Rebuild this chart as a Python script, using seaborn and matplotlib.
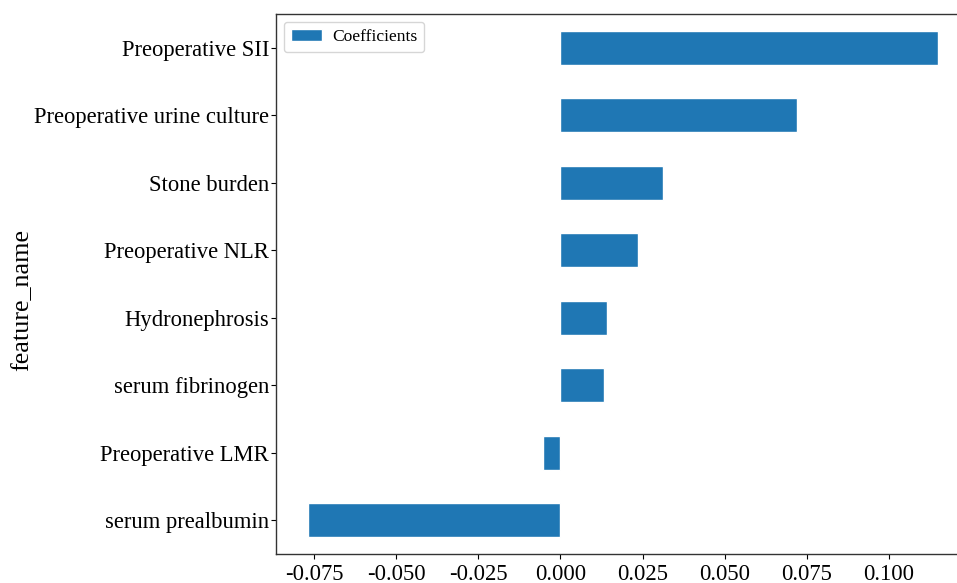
import matplotlib
matplotlib.use("Agg")
import matplotlib.pyplot as plt
import seaborn as sns
import pandas as pd

features = ["Preoperative SII", "Preoperative urine culture", "Stone burden",
            "Preoperative NLR", "Hydronephrosis", "serum fibrinogen",
            "Preoperative LMR", "serum prealbumin"]
coefficients = [0.1152, 0.0720, 0.0311, 0.0235, 0.0143, 0.0134, -0.0052, -0.0771]
xticks = [-0.075, -0.050, -0.025, 0.000, 0.025, 0.050, 0.075, 0.100]

df = pd.DataFrame({"feature_name": features, "Coefficients": coefficients})

sns.set_style("ticks")
plt.rcParams["font.family"] = ["Liberation Serif", "DejaVu Serif"]
plt.rcParams["text.color"] = "black"
plt.rcParams["xtick.color"] = "black"
plt.rcParams["ytick.color"] = "black"
plt.rcParams["axes.labelcolor"] = "black"

fig = plt.figure(figsize=(9.57, 5.83), dpi=100)
ax = fig.add_axes([276 / 957, 29 / 583, 694 / 957, 540 / 583])

sns.barplot(data=df, x="Coefficients", y="feature_name", orient="h",
            color="#1f77b4", saturation=1, width=0.5, ax=ax,
            label="Coefficients")

lo, hi = min(coefficients), max(coefficients)
pad = (hi - lo) * 0.05
ax.set_xlim(lo - pad, hi + pad)
ax.set_ylim(7.5, -0.5)
ax.set_xticks(xticks)
ax.set_xticklabels([f"{t:.3f}" for t in xticks])
ax.tick_params(axis="both", labelsize=16.3, colors="black", length=3.5)
ax.tick_params(axis="y", pad=1.5)
ax.tick_params(axis="x", pad=3.5)
ax.set_xlabel("")
ax.set_ylabel("feature_name", fontsize=18.8)
ax.yaxis.set_label_coords(-0.350, 0.47)
for s in ax.spines.values():
    s.set_visible(True)
    s.set_color("#333333")
    s.set_linewidth(1.0)
ax.legend(loc="upper left", fontsize=12.6, frameon=True, edgecolor="#cccccc",
          handlelength=1.75, handletextpad=0.6, borderaxespad=0.45)

fig.savefig("out.png", dpi=100)
